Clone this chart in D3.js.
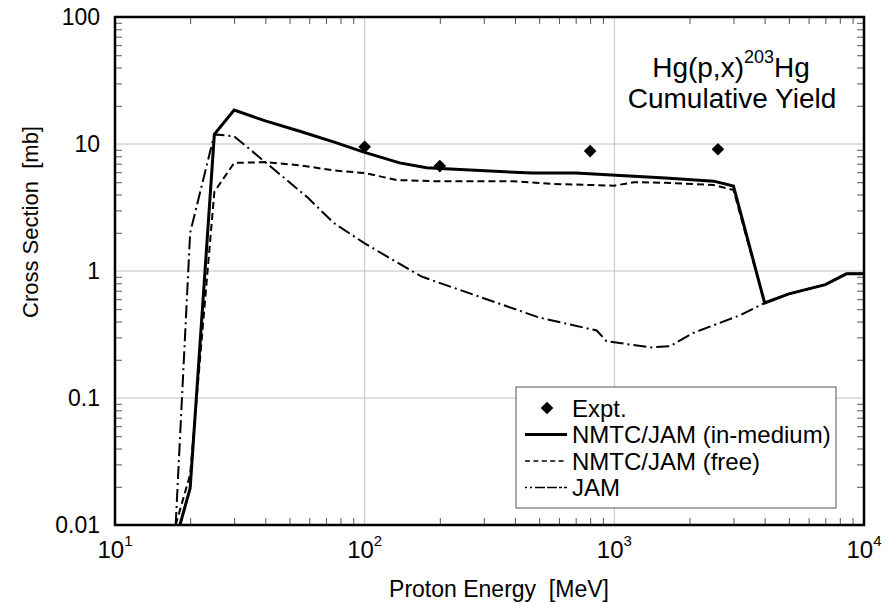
<!DOCTYPE html>
<html>
<head>
<meta charset="utf-8">
<script src="https://cdn.jsdelivr.net/npm/d3@7"></script>
<style>
  body { margin: 0; background: #fff; }
  text { font-family: "Liberation Sans", Arial, sans-serif; fill: #000; }
</style>
</head>
<body>
<div id="chart"></div>
<script>
// NMTC/JAM (in-medium)
const solidE = [18.2, 20, 25, 30, 40, 55, 75, 100, 138, 177, 220, 470, 700, 1600, 2500, 3000, 4000, 5000, 7000, 8500, 10000];
const solidS = [0.01, 0.0195, 11.9, 18.5, 15.2, 12.6, 10.4, 8.6, 7.1, 6.5, 6.35, 5.9, 5.9, 5.4, 5.1, 4.67, 0.56, 0.66, 0.78, 0.95, 0.95];
// NMTC/JAM (free)
const freeE = [17.5, 20, 25, 30, 40, 55, 75, 100, 135, 190, 390, 566, 1000, 1200, 1600, 2500, 3000, 4000, 5000, 7000, 8500, 10000];
const freeS = [0.01, 0.025, 4.2, 7.1, 7.2, 6.8, 6.2, 5.9, 5.2, 5.1, 5.1, 4.85, 4.7, 5.0, 4.95, 4.75, 4.35, 0.56, 0.66, 0.78, 0.95, 0.95];
// JAM
const jamE = [17.5, 20, 25, 30, 40, 59, 75, 100, 160, 170, 500, 850, 930, 1400, 1670, 2070, 3200, 4000, 5000, 7000, 8500, 10000];
const jamS = [0.01, 2.0, 11.9, 11.5, 7.2, 3.8, 2.4, 1.65, 0.96, 0.9, 0.43, 0.34, 0.28, 0.25, 0.256, 0.325, 0.45, 0.56, 0.66, 0.78, 0.95, 0.95];
// Expt.
const exptE = [100, 200, 800, 2600];
const exptS = [9.5, 6.7, 8.8, 9.1];

const xMajor = [10, 100, 1000, 10000];
const xExp = ["1", "2", "3", "4"];
const yMajor = [0.01, 0.1, 1, 10, 100];
const yLabels = ["0.01", "0.1", "1", "10", "100"];

const W = 888, H = 604;
const margin = { left: 115, right: 24, top: 17, bottom: 79 };
const x0 = margin.left, x1 = W - margin.right, y0 = margin.top, y1 = H - margin.bottom;

const svg = d3.select("#chart").append("svg").attr("width", W).attr("height", H);

const x = d3.scaleLog().domain([10, 10000]).range([x0, x1]);
const y = d3.scaleLog().domain([0.01, 100]).range([y1, y0]);

const minors = (lo, hi) => {
  const out = [];
  for (let p = lo; p < hi; p *= 10) for (let k = 2; k <= 9; k++) out.push(p * k);
  return out;
};
const xMinor = minors(10, 10000);
const yMinor = minors(0.01, 100);

// gridlines
svg.append("g").selectAll("line").data([100, 1000]).join("line")
  .attr("x1", d => x(d)).attr("x2", d => x(d)).attr("y1", y0).attr("y2", y1)
  .attr("stroke", "#c0c0c0").attr("stroke-width", 1);
svg.append("g").selectAll("line").data([0.1, 1, 10]).join("line")
  .attr("x1", x0).attr("x2", x1).attr("y1", d => y(d)).attr("y2", d => y(d))
  .attr("stroke", "#c0c0c0").attr("stroke-width", 1);

// minor ticks on all four sides (inside)
const tickAxis = (g, axis) => {
  g.call(axis);
  g.select(".domain").remove();
  g.selectAll(".tick line").attr("stroke", "#555").attr("stroke-width", 1);
};
svg.append("g").attr("transform", `translate(0,${y1})`)
  .call(g => tickAxis(g, d3.axisBottom(x).tickValues(xMinor).tickSize(-7).tickFormat("")));
svg.append("g").attr("transform", `translate(0,${y0})`)
  .call(g => tickAxis(g, d3.axisTop(x).tickValues(xMinor).tickSize(-7).tickFormat("")));
svg.append("g").attr("transform", `translate(${x0},0)`)
  .call(g => tickAxis(g, d3.axisLeft(y).tickValues(yMinor).tickSize(-7).tickFormat("")));
svg.append("g").attr("transform", `translate(${x1},0)`)
  .call(g => tickAxis(g, d3.axisRight(y).tickValues(yMinor).tickSize(-7).tickFormat("")));

// y tick labels
const yAx = svg.append("g").attr("transform", `translate(${x0},0)`)
  .call(d3.axisLeft(y).tickValues(yMajor).tickSize(0).tickPadding(15)
    .tickFormat((d, i) => yLabels[i]));
yAx.select(".domain").remove();
yAx.selectAll("text").attr("font-size", 23).attr("font-family", "Liberation Sans, Arial, sans-serif");

// x tick labels with exponents
const xl = svg.append("g").selectAll("text").data(xMajor).join("text")
  .attr("x", d => x(d)).attr("y", 558).attr("text-anchor", "middle").attr("font-size", 24);
xl.append("tspan").text("10");
xl.append("tspan").attr("font-size", 15).attr("dy", -12).text((d, i) => xExp[i]);

// curves
svg.append("defs").append("clipPath").attr("id", "clip")
  .append("rect").attr("x", x0).attr("y", y0).attr("width", x1 - x0).attr("height", y1 - y0);
const line = d3.line().x(d => x(d[0])).y(d => y(d[1]));
const plot = svg.append("g").attr("clip-path", "url(#clip)");

plot.append("path").datum(d3.zip(jamE, jamS)).attr("d", line)
  .attr("fill", "none").attr("stroke", "#000").attr("stroke-width", 2)
  .attr("stroke-dasharray", "13,4,2,4");
plot.append("path").datum(d3.zip(freeE, freeS)).attr("d", line)
  .attr("fill", "none").attr("stroke", "#000").attr("stroke-width", 2)
  .attr("stroke-dasharray", "7,4");
plot.append("path").datum(d3.zip(solidE, solidS)).attr("d", line)
  .attr("fill", "none").attr("stroke", "#000").attr("stroke-width", 3)
  .attr("stroke-linejoin", "miter");

const diamond = d3.symbol().type(d3.symbolSquare).size(80);
svg.append("g").selectAll("path").data(d3.zip(exptE, exptS)).join("path")
  .attr("d", diamond)
  .attr("transform", d => `translate(${x(d[0])},${y(d[1])}) rotate(45)`)
  .attr("fill", "#000");

// frame
svg.append("rect").attr("x", x0).attr("y", y0).attr("width", x1 - x0).attr("height", y1 - y0)
  .attr("fill", "none").attr("stroke", "#000").attr("stroke-width", 2.5);

// axis titles
svg.append("text").attr("x", 499).attr("y", 597).attr("text-anchor", "middle")
  .attr("font-size", 23).attr("xml:space", "preserve").text("Proton Energy  [MeV]");
svg.append("text").attr("transform", "translate(38,222) rotate(-90)").attr("text-anchor", "middle")
  .attr("font-size", 22).attr("xml:space", "preserve").text("Cross Section  [mb]");

// title
const t1 = svg.append("text").attr("x", 731).attr("y", 77).attr("text-anchor", "middle").attr("font-size", 28);
t1.append("tspan").text("Hg(p,x)");
t1.append("tspan").attr("font-size", 18).attr("dy", -14).text("203");
t1.append("tspan").attr("dy", 14).text("Hg");
svg.append("text").attr("x", 732).attr("y", 108).attr("text-anchor", "middle").attr("font-size", 28)
  .text("Cumulative Yield");

// legend
const lg = svg.append("g");
lg.append("rect").attr("x", 516).attr("y", 387).attr("width", 320).attr("height", 121)
  .attr("fill", "#fff").attr("stroke", "#555").attr("stroke-width", 1);
const legendItems = [
  { label: "Expt.", type: "pt" },
  { label: "NMTC/JAM (in-medium)", type: "solid" },
  { label: "NMTC/JAM (free)", type: "free" },
  { label: "JAM", type: "jam" },
];
legendItems.forEach((d, i) => {
  const yy = 408 + i * 26.5;
  if (d.type === "pt") {
    lg.append("path").attr("d", diamond).attr("transform", `translate(547,${yy}) rotate(45)`).attr("fill", "#000");
  } else {
    lg.append("line").attr("x1", 525).attr("x2", 567).attr("y1", yy).attr("y2", yy)
      .attr("stroke", "#000")
      .attr("stroke-width", d.type === "solid" ? 3 : 1.5)
      .attr("stroke-dasharray", d.type === "free" ? "5,3.4" : d.type === "jam" ? "2,3,2,3,10,2,10" : null);
  }
  lg.append("text").attr("x", 572).attr("y", yy).attr("dy", "0.36em").attr("font-size", 24).text(d.label);
});
</script>
</body>
</html>
